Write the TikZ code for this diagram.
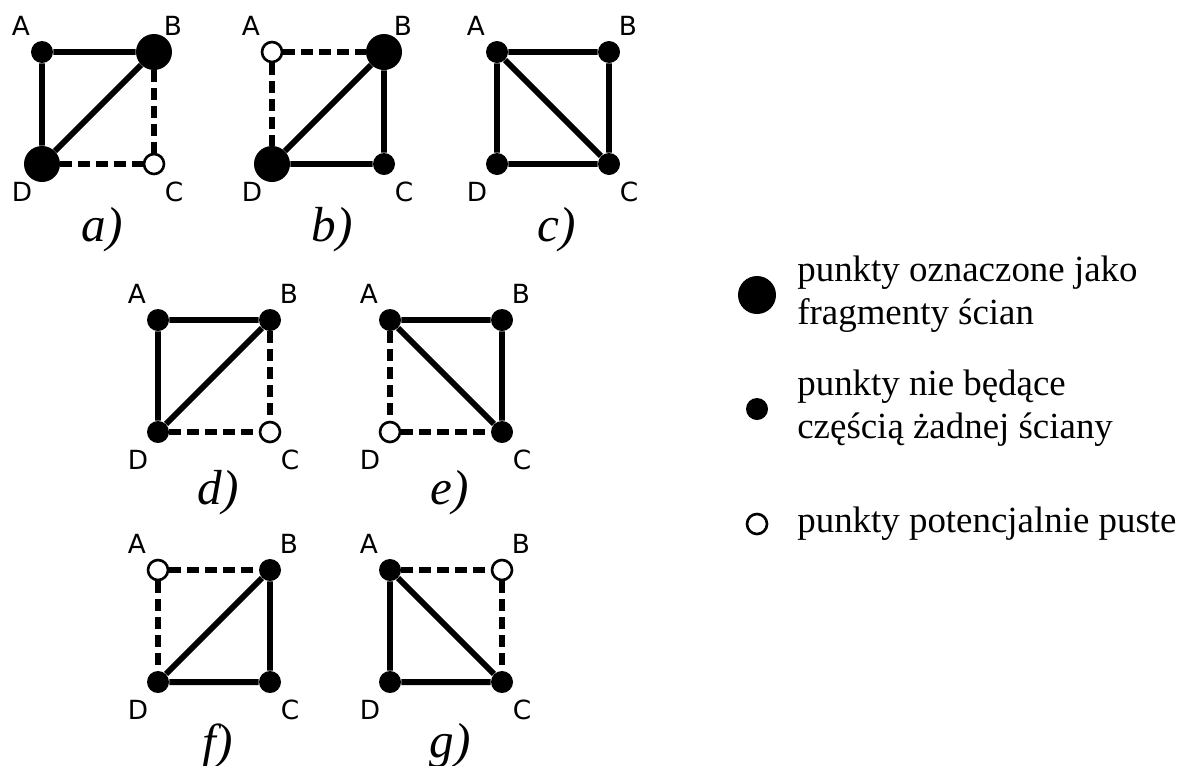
\documentclass[tikz,border=0pt]{standalone}
\usepackage{fontspec}
\setmainfont{Liberation Serif}
\newfontfamily\vertexfont{DejaVu Sans}
\tikzset{
  bigpt/.style={circle, fill=black, inner sep=0pt, minimum size=0.72cm},
  smallpt/.style={circle, fill=black, inner sep=0pt, minimum size=0.44cm},
  emptypt/.style={circle, draw=black, fill=white, line width=1.5pt,
    inner sep=0pt, minimum size=0.40cm},
  solidedge/.style={line width=3.4pt},
  dashededge/.style={line width=3.4pt, dash pattern=on 0.24cm off 0.12cm},
  vlabel/.style={font=\vertexfont\fontsize{15}{17}\selectfont, inner sep=0pt},
  panelcap/.style={font=\itshape\fontsize{28}{32}\selectfont, inner sep=0pt},
  legtext/.style={font=\fontsize{21}{24.4}\selectfont, align=left,
    anchor=west, inner sep=0pt}
}

\begin{document}
\begin{tikzpicture}[x=0.02cm, y=-0.02cm]
  \useasboundingbox (0,0) rectangle (1182,765);

  % Corner points and letters of every panel (top left corner, caption height, kind of A/B/C/D)
  \foreach \p/\x/\y/\cy/\sA/\sB/\sC/\sD in {
      a/42/52/230/smallpt/bigpt/emptypt/bigpt,
      b/272/52/230/emptypt/bigpt/smallpt/bigpt,
      c/497/52/230/smallpt/smallpt/smallpt/smallpt,
      d/158/320/493/smallpt/smallpt/emptypt/smallpt,
      e/390/320/493/smallpt/smallpt/smallpt/emptypt,
      f/158/570/746/emptypt/smallpt/smallpt/smallpt,
      g/390/570/746/smallpt/emptypt/smallpt/smallpt} {
    \node[\sA] (\p A) at (\x,\y) {};
    \node[\sB] (\p B) at (\x+112,\y) {};
    \node[\sC] (\p C) at (\x+112,\y+112) {};
    \node[\sD] (\p D) at (\x,\y+112) {};
    \node[vlabel] (\p lA) at (\x-21,\y-26) {A};
    \node[vlabel] (\p lB) at (\x+131,\y-26) {B};
    \node[vlabel] (\p lC) at (\x+132,\y+140) {C};
    \node[vlabel] (\p lD) at (\x-20,\y+140) {D};
    \node[panelcap] (\p cap) at (\x+60,\cy) {\p)};
  }

  % a)
  \draw[solidedge] (aA) -- (aB) (aA) -- (aD) (aD) -- (aB);
  \draw[dashededge] (aB) -- (aC);
  \draw[dashededge] (aD) -- (aC);

  % b)
  \draw[solidedge] (bB) -- (bC) (bD) -- (bC) (bD) -- (bB);
  \draw[dashededge] (bA) -- (bB);
  \draw[dashededge] (bA) -- (bD);

  % c)
  \draw[solidedge] (cA) -- (cB) (cB) -- (cC) (cD) -- (cC) (cA) -- (cD) (cA) -- (cC);

  % d)
  \draw[solidedge] (dA) -- (dB) (dA) -- (dD) (dD) -- (dB);
  \draw[dashededge] (dB) -- (dC);
  \draw[dashededge] (dD) -- (dC);

  % e)
  \draw[solidedge] (eA) -- (eB) (eB) -- (eC) (eA) -- (eC);
  \draw[dashededge] (eA) -- (eD);
  \draw[dashededge] (eD) -- (eC);

  % f)
  \draw[solidedge] (fB) -- (fC) (fD) -- (fC) (fD) -- (fB);
  \draw[dashededge] (fA) -- (fB);
  \draw[dashededge] (fA) -- (fD);

  % g)
  \draw[solidedge] (gA) -- (gD) (gD) -- (gC) (gA) -- (gC);
  \draw[dashededge] (gA) -- (gB);
  \draw[dashededge] (gB) -- (gC);

  % Legend
  \node[bigpt, minimum size=0.76cm] (legbig) at (757,295) {};
  \node[smallpt] (legsmall) at (757,409) {};
  \node[emptypt] (legempty) at (757,524) {};
  \node[legtext] (legbigtxt) at (797,294) {punkty oznaczone jako\\fragmenty ścian};
  \node[legtext] (legsmalltxt) at (797,408) {punkty nie będące\\częścią żadnej ściany};
  \node[legtext] (legemptytxt) at (797,524) {punkty potencjalnie puste};
\end{tikzpicture}
\end{document}
